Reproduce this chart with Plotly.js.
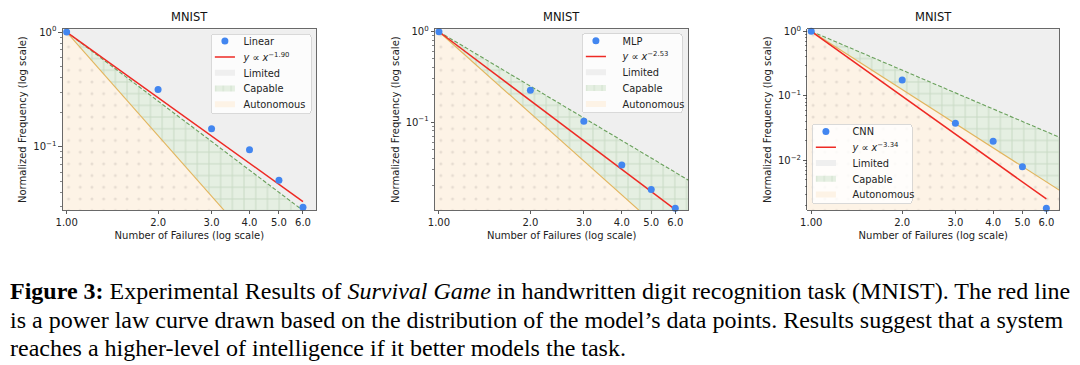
<!DOCTYPE html>
<html>
<head>
<meta charset="utf-8">
<script src="https://cdn.plot.ly/plotly-3.0.1.min.js"></script>
<style>
html,body{margin:0;padding:0;background:#fff;}
#chart{width:1080px;height:365px;}
</style>
</head>
<body>
<div id="chart"></div>
<script>
// ---- data ----
const failures = [1, 2, 3, 4, 5, 6];
const linearFreq = [1, 0.316, 0.1435, 0.094, 0.051, 0.0296];
const mlpFreq = [1, 0.225, 0.102, 0.0336, 0.0179, 0.0111];
const cnnFreq = [1, 0.176, 0.0374, 0.0197, 0.00796, 0.0018];
const modelNames = ['Linear', 'MLP', 'CNN'];
const fitExponents = [-1.90, -2.53, -3.34];
const fitLabels = ['−1.90', '−2.53', '−3.34'];
const capableExponent = -2;     // Limited / Capable boundary
const autonomousExponent = -3;  // Capable / Autonomous boundary
const xTickVals = [1, 2, 3, 4, 5, 6];
const xTickText = ['1.00', '2.0', '3.0', '4.0', '5.0', '6.0'];
const panelTitle = 'MNIST';
const regionNames = ['Limited', 'Capable', 'Autonomous'];

const freqs = [linearFreq, mlpFreq, cnnFreq];
const yRanges = [[-1.552, 0.024], [-1.973, 0.027], [-2.77, 0.031]];
const xRange = [-0.013, 0.821];
const xDomains = [[62.7/1080, 316/1080], [435/1080, 688.3/1080], [807.3/1080, 1059.3/1080]];
const yDomain = [1 - 210/365, 1 - 29.3/365];

const W = 1080, H = 365;
const FONT = 'DejaVu Sans, sans-serif';
const pw = (x, e) => Math.pow(x, e);
const xL = 0.9, xR = 7.5, yTop = 5, yBot = 1e-4;

const traces = [];
const layout = {
  width: W, height: H,
  margin: {l: 0, r: 0, t: 0, b: 0},
  paper_bgcolor: '#ffffff',
  plot_bgcolor: '#ffffff',
  font: {family: FONT, size: 10, color: '#222'},
  showlegend: true,
  annotations: []
};

for (let p = 0; p < 3; p++) {
  const sfx = p === 0 ? '' : String(p + 1);
  const xa = 'x' + sfx, ya = 'y' + sfx;
  const legendId = 'legend' + sfx;

  // Limited region
  traces.push({
    type: 'scatter', mode: 'none', xaxis: xa, yaxis: ya, legend: legendId,
    name: regionNames[0], legendrank: 3,
    x: [xL, xR, xR, xL], y: [pw(xL, capableExponent), pw(xR, capableExponent), yTop, yTop],
    fill: 'toself', fillcolor: '#efefef', hoverinfo: 'skip'
  });
  // Capable region
  traces.push({
    type: 'scatter', mode: 'none', xaxis: xa, yaxis: ya, legend: legendId,
    name: regionNames[1], legendrank: 4,
    x: [xL, xR, xR, xL],
    y: [pw(xL, capableExponent), pw(xR, capableExponent), pw(xR, autonomousExponent), pw(xL, autonomousExponent)],
    fill: 'toself', fillcolor: '#e5efe2',
    fillpattern: {shape: '+', fgcolor: '#c8dac4', bgcolor: '#e5efe2', size: 11.7, solidity: 0.16},
    hoverinfo: 'skip'
  });
  // Autonomous region
  traces.push({
    type: 'scatter', mode: 'none', xaxis: xa, yaxis: ya, legend: legendId,
    name: regionNames[2], legendrank: 5,
    x: [xL, xR, xR, xL],
    y: [pw(xL, autonomousExponent), pw(xR, autonomousExponent), yBot, yBot],
    fill: 'toself', fillcolor: '#fdf3e6',
    fillpattern: {shape: '.', fgcolor: '#e6dcd1', bgcolor: '#fdf3e6', size: 11.7, solidity: 0.05},
    hoverinfo: 'skip'
  });
  // boundary lines
  traces.push({
    type: 'scatter', mode: 'lines', xaxis: xa, yaxis: ya, showlegend: false,
    x: [1, xR], y: [1, pw(xR, capableExponent)],
    line: {color: '#6aa05c', width: 1.1, dash: '4px,2px'}, hoverinfo: 'skip'
  });
  traces.push({
    type: 'scatter', mode: 'lines', xaxis: xa, yaxis: ya, showlegend: false,
    x: [1, xR], y: [1, pw(xR, autonomousExponent)],
    line: {color: '#e2b45c', width: 1.1}, hoverinfo: 'skip'
  });
  // fitted power law
  traces.push({
    type: 'scatter', mode: 'lines', xaxis: xa, yaxis: ya, legend: legendId,
    name: '<i>y</i> ∝ <i>x</i><sup>' + fitLabels[p] + '</sup>', legendrank: 2,
    x: [failures[0], failures[failures.length - 1]],
    y: [pw(failures[0], fitExponents[p]), pw(failures[failures.length - 1], fitExponents[p])],
    line: {color: '#ee2a24', width: 1.5}
  });
  // data points
  traces.push({
    type: 'scatter', mode: 'markers', xaxis: xa, yaxis: ya, legend: legendId,
    name: modelNames[p], legendrank: 1,
    x: failures, y: freqs[p], cliponaxis: false,
    marker: {color: '#4286f0', size: 7}
  });

  // axes
  const yr = yRanges[p];
  const majors = [], majorText = [], minors = [];
  for (let e = -4; e <= 0; e++) {
    const v = Math.pow(10, e);
    if (e >= yr[0] && e <= yr[1]) { majors.push(v); majorText.push('10<sup>' + (e < 0 ? '−' + (-e) : e) + '</sup>'); }
    for (let k = 2; k <= 9; k++) {
      const m = k * v;
      if (Math.log10(m) >= yr[0] && Math.log10(m) <= yr[1]) minors.push(m);
    }
  }
  layout['xaxis' + sfx] = {
    type: 'log', domain: xDomains[p], range: xRange, anchor: ya,
    tickmode: 'array', tickvals: xTickVals, ticktext: xTickText,
    ticks: 'outside', ticklen: 3.5, tickwidth: 0.8, tickcolor: '#333',
    showline: true, mirror: true, linecolor: '#444', linewidth: 0.8,
    showgrid: false, zeroline: false,
    tickfont: {family: FONT, size: 10, color: '#222'},
    title: {text: 'Number of Failures (log scale)', font: {family: FONT, size: 10, color: '#222'}, standoff: 4}
  };
  layout['yaxis' + sfx] = {
    type: 'log', domain: yDomain, range: yr, anchor: xa,
    tickmode: 'array', tickvals: majors, ticktext: majorText,
    ticks: 'outside', ticklen: 3.5, tickwidth: 0.8, tickcolor: '#333',
    minor: {tickmode: 'array', tickvals: minors, ticks: 'outside', ticklen: 2, tickwidth: 0.6, tickcolor: '#333', showgrid: false},
    showline: true, mirror: true, linecolor: '#444', linewidth: 0.8,
    showgrid: false, zeroline: false,
    tickfont: {family: FONT, size: 10, color: '#222'},
    title: {text: 'Normalized Frequency (log scale)', font: {family: FONT, size: 10, color: '#222'}, standoff: 4}
  };
  layout.annotations.push({
    xref: 'paper', yref: 'paper', x: (xDomains[p][0] + xDomains[p][1]) / 2, y: 1 - 17/365,
    xanchor: 'center', yanchor: 'middle', showarrow: false,
    text: panelTitle, font: {family: FONT, size: 11.5, color: '#111'}
  });
}

const legendBase = {
  bgcolor: 'rgba(255,255,255,0.82)', bordercolor: '#d0d0d0', borderwidth: 0.8,
  font: {family: FONT, size: 9.8, color: '#222'}, tracegroupgap: 0,
  itemwidth: 30, traceorder: 'normal'
};
layout.legend = Object.assign({}, legendBase, {x: 311.7/1080, y: 1 - 34/365, xanchor: 'right', yanchor: 'top'});
layout.legend2 = Object.assign({}, legendBase, {x: 682.7/1080, y: 1 - 33.3/365, xanchor: 'right', yanchor: 'top'});
layout.legend3 = Object.assign({}, legendBase, {x: 811.7/1080, y: 1 - 204/365, xanchor: 'left', yanchor: 'bottom'});

// caption
const SERIF = 'Liberation Serif, Times New Roman, serif';
const captionLines = [
  '<b>Figure 3:</b> Experimental Results of <i>Survival Game</i> in handwritten digit recognition task (MNIST). The red line',
  'is a power law curve drawn based on the distribution of the model’s data points. Results suggest that a system',
  'reaches a higher-level of intelligence if it better models the task.'
];
const captionY = [291, 320, 348];
captionLines.forEach((t, i) => {
  layout.annotations.push({
    xref: 'paper', yref: 'paper', x: 8/1080, y: 1 - captionY[i]/365,
    xanchor: 'left', yanchor: 'middle', showarrow: false, align: 'left',
    text: t, font: {family: SERIF, size: 24, color: '#000'}
  });
});

// tighten legend rows / key width to matplotlib-like proportions
function compactLegends(gd) {
  const STEP = 15.8, TOP_PAD = 7, BOT_PAD = 9, KEY_SCALE = 0.67, TEXT_SHIFT = 8;
  const parse = (el) => {
    const m = /translate\(\s*([-\d.e]+)[ ,]+([-\d.e]+)\s*\)/.exec(el.getAttribute('transform') || '');
    return m ? [parseFloat(m[1]), parseFloat(m[2])] : [0, 0];
  };
  gd.querySelectorAll('g.legend, g.legend2, g.legend3').forEach((leg) => {
    const cls = leg.getAttribute('class') || '';
    const items = Array.from(leg.querySelectorAll('g.traces'));
    const bg = leg.querySelector('rect.bg');
    if (!items.length || !bg) return;
    const bgTop = bg.getBoundingClientRect().top;
    const oldBgH = parseFloat(bg.getAttribute('height'));
    const oldBgW = parseFloat(bg.getAttribute('width'));
    const t0 = (items[0].querySelector('text.legendtext') || items[0]).getBoundingClientRect();
    const centerOff = (t0.top + t0.bottom) / 2 - bgTop;
    const shift = TOP_PAD - centerOff;
    const y0 = parse(items[0])[1];
    items.forEach((it, i) => {
      const [x] = parse(it);
      it.setAttribute('transform', 'translate(' + x + ',' + (y0 + shift + i * STEP) + ')');
      it.querySelectorAll('g.layers path').forEach((pth) => {
        const tr = pth.getAttribute('transform') || '';
        if (tr.indexOf('translate') >= 0) {
          const [px, py] = parse(pth);
          pth.setAttribute('transform', 'translate(' + (px * KEY_SCALE) + ',' + py + ')');
        } else {
          pth.setAttribute('transform', 'scale(' + KEY_SCALE + ',1)');
        }
      });
      const txt = it.querySelector('text.legendtext');
      if (txt) txt.setAttribute('x', parseFloat(txt.getAttribute('x') || 40) - TEXT_SHIFT);
    });
    const newH = TOP_PAD + (items.length - 1) * STEP + BOT_PAD;
    bg.setAttribute('height', newH);
    bg.setAttribute('width', oldBgW - TEXT_SHIFT);
    bg.setAttribute('rx', 3); bg.setAttribute('ry', 3);
    const [lx, ly] = parse(leg);
    const isBottom = cls.indexOf('legend3') >= 0;
    const isRight = !isBottom;
    leg.setAttribute('transform', 'translate(' + (lx + (isRight ? TEXT_SHIFT : 0)) + ',' + (ly + (isBottom ? (oldBgH - newH) : 0)) + ')');
  });
}

Plotly.newPlot('chart', traces, layout, {staticPlot: true, displayModeBar: false}).then(compactLegends);
</script>
</body>
</html>
